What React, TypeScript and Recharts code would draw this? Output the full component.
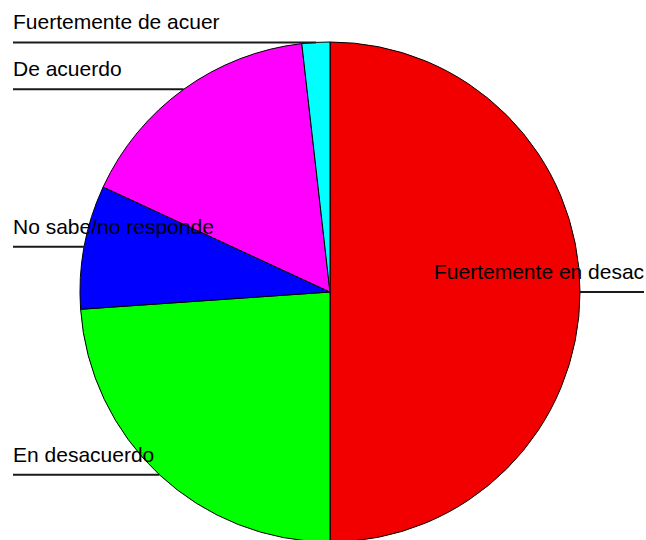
import React from "react";
import { PieChart, Pie, Cell } from "recharts";

const categories = [
  "Fuertemente en desac",
  "En desacuerdo",
  "No sabe/no responde",
  "De acuerdo",
  "Fuertemente de acuer",
];
const values = [50, 23.9, 8.0, 16.3, 1.8];
const colors = ["#f20000", "#00ff00", "#0000ff", "#ff00ff", "#00ffff"];

const data = categories.map((name, i) => ({ name, value: values[i] }));

const W = 646;
const H = 540;
const RAD = Math.PI / 180;

const renderLabel = (props: any) => {
  const { cx, cy, midAngle, outerRadius, index } = props;
  const ex = cx + Math.cos(-midAngle * RAD) * outerRadius;
  const ey = cy + Math.sin(-midAngle * RAD) * outerRadius;
  const right = ex > cx + 1;
  const x1 = right ? W - 2 : 13;
  const tx = right ? 434 : 13;
  return (
    <g key={`lbl-${index}`}>
      <line x1={ex} y1={ey} x2={x1} y2={ey} stroke="#1a1a1a" strokeWidth={2} />
      <text
        x={tx}
        y={ey - 13}
        fill="#000"
        fontSize={21}
        fontFamily="'Liberation Sans', Arial, sans-serif"
        textAnchor="start"
      >
        {categories[index]}
      </text>
    </g>
  );
};

export default function App() {
  return (
    <div style={{ position: "absolute", left: 0, top: 0, width: W, height: H, background: "#fff" }}>
      <PieChart width={W} height={H} margin={{ top: 0, right: 0, bottom: 0, left: 0 }}>
        <Pie
          data={data}
          dataKey="value"
          nameKey="name"
          cx={330}
          cy={292}
          outerRadius={250}
          startAngle={90}
          endAngle={-270}
          stroke="#000"
          strokeWidth={1}
          label={renderLabel}
          labelLine={false}
          isAnimationActive={false}
        >
          {data.map((d, i) => (
            <Cell key={d.name} fill={colors[i]} />
          ))}
        </Pie>
      </PieChart>
    </div>
  );
}
